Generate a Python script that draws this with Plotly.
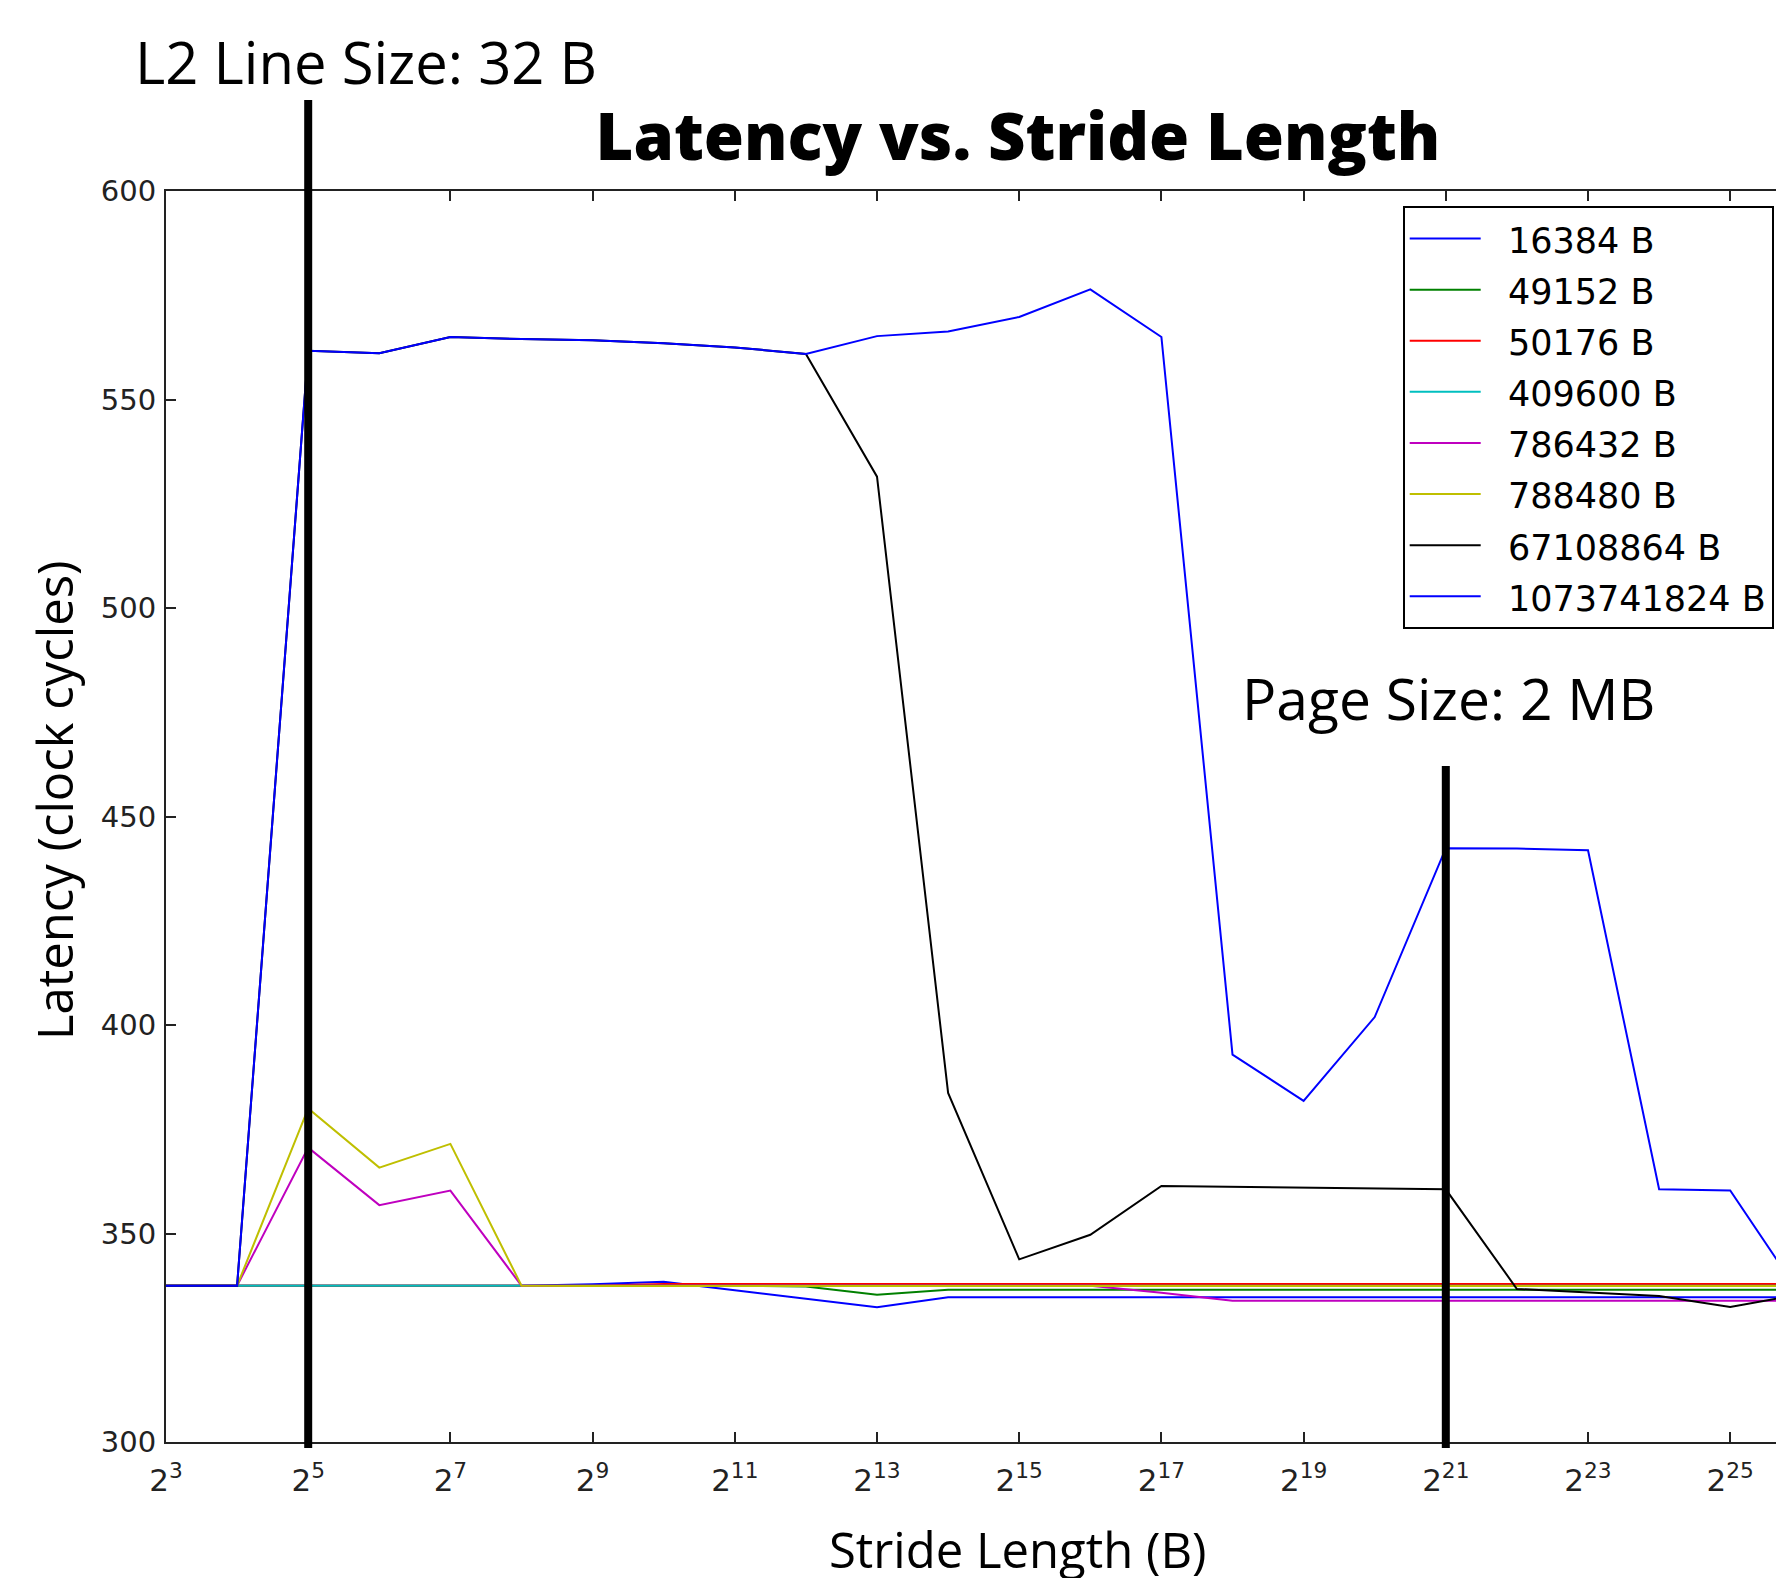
import math
import plotly.graph_objects as go

# ---------------- data ----------------
exponents = list(range(3, 27))  # stride = 2**k bytes
strides = [2 ** k for k in exponents]

series_names = ["16384 B", "49152 B", "50176 B", "409600 B",
                "786432 B", "788480 B", "67108864 B", "1073741824 B"]
series_colors = ["#0000ff", "#008000", "#ff0000", "#00bfbf",
                 "#bf00bf", "#bfbf00", "#000000", "#0000ff"]

lat_16384 = [337.5, 337.5, 337.5, 337.5, 337.5, 337.5, 337.8, 338.4, 336.4, 334.3,
             332.3, 334.7, 334.7, 334.7, 334.7, 334.7, 334.7, 334.7, 334.7, 334.7,
             334.7, 334.7, 334.7, 334.7]
lat_49152 = [337.5, 337.5, 337.5, 337.5, 337.5, 337.5, 337.5, 337.5, 337.5, 337.3,
             335.3, 336.5, 336.5, 336.5, 336.5, 336.5, 336.5, 336.5, 336.5, 336.5,
             336.5, 336.5, 336.5, 336.5]
lat_50176 = [337.5, 337.5, 337.5, 337.5, 337.5, 337.5, 337.5, 337.9, 337.9, 337.9,
             337.9, 337.9, 337.9, 337.9, 337.9, 337.9, 337.9, 337.9, 337.9, 337.9,
             337.9, 337.9, 337.9, 337.9]
lat_409600 = [337.5, 337.5, 337.5, 337.5, 337.5, 337.5, 337.5, 337.5, 337.5, 337.5,
              337.5, 337.5, 337.5, 337.5, 337.5, 337.5, 337.5, 337.5, 337.5, 337.5,
              337.5, 337.5, 337.5, 337.5]
lat_786432 = [337.5, 337.5, 370.6, 356.8, 360.3, 337.5, 337.5, 337.5, 337.5, 337.5,
              337.5, 337.5, 337.5, 337.5, 335.8, 333.9, 333.9, 333.9, 333.9, 333.9,
              333.9, 333.9, 333.9, 333.9]
lat_788480 = [337.5, 337.5, 380.0, 365.8, 371.5, 337.5, 337.4, 337.4, 337.4, 337.4,
              337.4, 337.4, 337.4, 337.4, 337.4, 337.4, 337.4, 337.4, 337.4, 337.4,
              337.4, 337.4, 337.4, 337.4]
lat_67108864 = [337.5, 337.5, 561.7, 561.1, 565.0, 564.5, 564.2, 563.5, 562.5, 560.9,
                531.5, 383.7, 343.8, 349.7, 361.4, 361.2, 361.0, 360.8, 360.6, 336.7,
                335.8, 335.0, 332.4, 335.4]
lat_1073741824 = [337.5, 337.5, 561.7, 561.1, 565.0, 564.5, 564.2, 563.5, 562.5, 560.9,
                  565.2, 566.3, 569.8, 576.4, 565.0, 392.9, 381.8, 401.9, 442.4, 442.3,
                  441.9, 360.6, 360.3, 335.0]

series_values = [lat_16384, lat_49152, lat_50176, lat_409600,
                 lat_786432, lat_788480, lat_67108864, lat_1073741824]

tick_exponents = list(range(3, 27, 2))
x_tickvals = [2 ** k for k in tick_exponents]
x_ticktext = ["2<sup>%d</sup>" % k for k in tick_exponents]
y_tickvals = [300, 350, 400, 450, 500, 550, 600]

marker_strides = [32, 2 ** 21]          # L2 line size, page size

# ---------------- layout geometry ----------------
W, H = 1776, 1578
L, R, T, B = 166, 0, 191, 136
PX0, PX1 = L, W - R
PY0, PY1 = T, H - B


def px2paper_x(px):
    return (px - PX0) / (PX1 - PX0)


def px2paper_y(py):
    return (PY1 - py) / (PY1 - PY0)


marker_tops_px = [100, 766]
marker_bottom_px = 1448

LOG2 = math.log10(2)
x_range = [3 * LOG2, 25.644 * LOG2]

fig = go.Figure()
for name, color, vals in zip(series_names, series_colors, series_values):
    fig.add_trace(go.Scatter(
        x=strides, y=vals, mode="lines",
        name='<span style="font-size:35px">&nbsp;&nbsp;%s</span>' % name,
        line=dict(color=color, width=2),
    ))

for xs, top in zip(marker_strides, marker_tops_px):
    fig.add_shape(type="line", xref="x", yref="paper",
                  x0=xs, x1=xs, y0=px2paper_y(marker_bottom_px), y1=px2paper_y(top),
                  line=dict(color="black", width=8), layer="above")

ann_font = "Open Sans"
fig.add_annotation(text="L2 Line Size: 32 B", xref="paper", yref="paper",
                   x=px2paper_x(132.5), y=px2paper_y(61.5),
                   xanchor="left", yanchor="middle", showarrow=False,
                   font=dict(family=ann_font, size=58, color="black"))
fig.add_annotation(text="Page Size: 2 MB", xref="paper", yref="paper",
                   x=px2paper_x(1240), y=px2paper_y(698),
                   xanchor="left", yanchor="middle", showarrow=False,
                   font=dict(family=ann_font, size=57, color="black"))
fig.add_annotation(text="Stride Length (B)", xref="paper", yref="paper",
                   x=px2paper_x(1018), y=px2paper_y(1549),
                   xanchor="center", yanchor="middle", showarrow=False,
                   font=dict(family=ann_font, size=49, color="black"))
fig.add_annotation(text="Latency (clock cycles)", xref="paper", yref="paper",
                   x=px2paper_x(54), y=px2paper_y(801), textangle=-90,
                   xanchor="center", yanchor="middle", showarrow=False,
                   font=dict(family=ann_font, size=49, color="black"))

fig.update_layout(
    width=W, height=H,
    margin=dict(l=L, r=R, t=T, b=B, pad=0),
    paper_bgcolor="white", plot_bgcolor="white",
    title=dict(text="Latency vs. Stride Length", x=px2paper_x(1018), xref="paper",
               xanchor="center", y=1 - 137 / H, yref="container", yanchor="middle",
               font=dict(family=ann_font, size=65, color="black", weight=800)),
    showlegend=True,
    legend=dict(x=px2paper_x(1402.7), y=px2paper_y(206), xanchor="left", yanchor="top",
                bgcolor="white", bordercolor="black", borderwidth=2,
                font=dict(family="DejaVu Sans", size=37, color="black"),
                itemwidth=71, tracegroupgap=0),
    xaxis=dict(type="log", range=x_range, tickmode="array", tickvals=x_tickvals,
               ticktext=x_ticktext, ticks="inside", ticklen=10, tickwidth=1.5,
               tickcolor="#222", showline=True, linecolor="#222", linewidth=2,
               mirror="ticks", showgrid=False, zeroline=False, ticklabelstandoff=10,
               tickfont=dict(family="DejaVu Sans", size=31, color="#222")),
    yaxis=dict(range=[300, 600], tickmode="array", tickvals=y_tickvals,
               ticks="inside", ticklen=10, tickwidth=1.5, tickcolor="#222",
               showline=True, linecolor="#222", linewidth=2, mirror=False,
               showgrid=False, zeroline=False, ticklabelstandoff=2,
               tickfont=dict(family="DejaVu Sans", size=29, color="#222")),
)

fig.write_html("out.html")
